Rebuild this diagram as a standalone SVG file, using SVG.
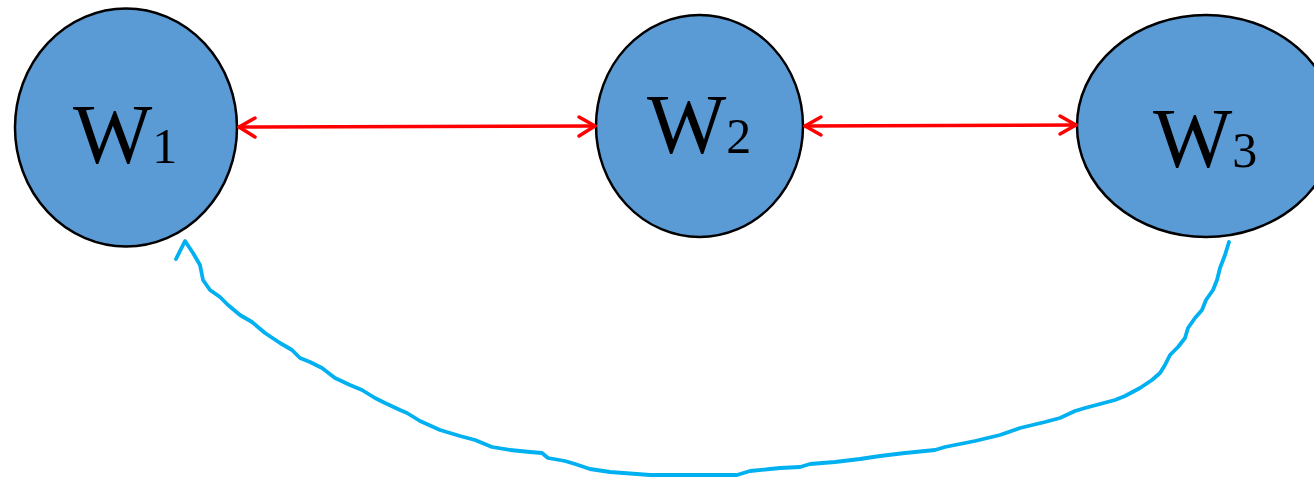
<svg xmlns="http://www.w3.org/2000/svg" width="1314" height="479" viewBox="0 0 1314 479">
  <style>
    .node { fill: #5b9bd5; stroke: #000000; stroke-width: 2.5; }
    .lbl { font-family: "Liberation Serif", "Times New Roman", serif; font-size: 84px; fill: #000000; }
    .sub { font-size: 50px; }
    .red { stroke: #ff0000; stroke-width: 3.5; fill: none; stroke-linecap: round; stroke-linejoin: round; }
    .blue { stroke: #00b0f0; stroke-width: 3.8; fill: none; stroke-linecap: round; stroke-linejoin: round; }
  </style>
  <rect width="1314" height="479" fill="#ffffff"/>
  <g id="node-W1">
    <ellipse class="node" cx="126" cy="127.5" rx="111" ry="119"/>
    <text class="lbl" x="73" y="163">W<tspan class="sub">1</tspan></text>
  </g>
  <g id="node-W2">
    <ellipse class="node" cx="699.5" cy="126" rx="103.5" ry="111"/>
    <text class="lbl" x="647" y="153">W<tspan class="sub">2</tspan></text>
  </g>
  <g id="node-W3">
    <ellipse class="node" cx="1206" cy="126" rx="129" ry="111"/>
    <text class="lbl" x="1153" y="167">W<tspan class="sub">3</tspan></text>
  </g>
  <g id="connectors">
    <g id="edge-W1-W2">
      <line class="red" x1="239" y1="127" x2="595" y2="126"/>
      <polyline class="red" points="255,118 239,127 255,137"/>
      <polyline class="red" points="579,117 595,126 579,136"/>
    </g>
    <g id="edge-W2-W3">
      <line class="red" x1="805" y1="126" x2="1076" y2="125"/>
      <polyline class="red" points="821,117 805,126 821,135"/>
      <polyline class="red" points="1060,116 1076,125 1060,134"/>
    </g>
    <g id="edge-W3-W1">
      <polyline class="blue" points="1229,242 1225,255 1220,268 1217,280 1213,290 1206,300 1202,310 1195,318 1188,328 1185,338 1178,347 1170,355 1165,365 1160,373 1152,380 1140,388 1125,396 1115,400 1100,404 1085,408 1075,411 1060,418 1045,422 1020,428 1000,435 975,441 945,447 935,450 905,453 880,456 860,459 835,462 810,464 800,467 780,468 770,469 750,471 737,475 700,475 650,475 610,472 590,469 575,464 565,461 548,458 542,453 530,452 510,450 492,447 475,440 460,436 440,430 420,421 407,413 400,410 385,403 375,398 362,390 350,385 335,378 322,368 310,362 300,358 292,350 280,343 265,333 252,322 240,315 228,305 220,297 210,290 203,280 200,265 193,253 185,241 176,259"/>
    </g>
  </g>
</svg>
